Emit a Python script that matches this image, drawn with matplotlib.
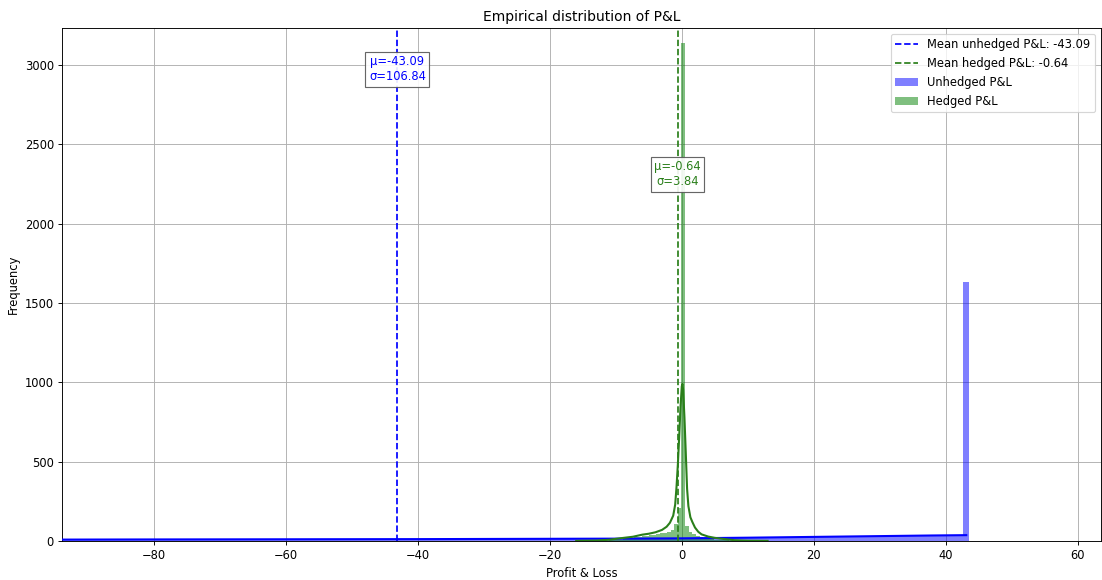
import numpy as np
import matplotlib
matplotlib.use("Agg")
import matplotlib.pyplot as plt

# ---- Unhedged P&L histogram (bin width 0.9, last bin is the premium spike) ----
unhedged_first_edge = -94.2
unhedged_width = 0.9
unhedged_counts = [
    8, 11, 7, 9, 12, 8, 10, 6, 9, 11, 8, 13, 9, 7, 10, 12, 8, 9, 11,
    9, 7, 12, 10, 8, 11, 9, 13, 10, 8, 12, 9, 11, 7, 10, 12, 9, 11, 8,
    12, 10, 9, 13, 11, 8, 12, 10, 14, 9, 11, 12, 10, 13, 9, 11, 14, 10, 12,
    11, 13, 10, 14, 12, 9, 13, 15, 11, 12, 14, 10, 13, 12, 15, 11, 14, 13, 12,
    14, 12, 15, 13, 11, 16, 14, 13, 15, 12, 16, 14, 13, 17, 15, 12, 16, 14, 15,
    16, 14, 17, 15, 18, 16, 14, 17, 19, 15, 18, 16, 20, 17, 19, 18, 16, 21, 19,
    20, 22, 19, 23, 21, 24, 20, 25, 23, 22, 26, 24, 27, 23, 26, 28, 25, 27, 29,
    28, 30, 27, 31, 29, 32, 30, 33, 31, 34, 32, 35, 33, 36, 34, 37, 35, 38, 36,
    1630,
]

# ---- Hedged P&L histogram (bin width 0.55) ----
hedged_first_edge = -13.25
hedged_width = 0.55
hedged_counts = [
    1, 1, 2, 3, 4, 5, 7, 9, 12, 15, 19, 23, 27, 31, 34, 37, 40, 44, 48, 52, 58, 68, 110, 205,
    3140,
    92, 55, 42, 33, 26, 20, 15, 11, 8, 6, 5, 4, 3, 2, 2, 1, 1, 1, 1, 0, 1, 0, 0, 0,
]

# ---- Kernel density curves, scaled to counts ----
unhedged_kde_x = [-94, -80, -60, -40, -20, -10, 0, 10, 20, 30, 38, 43.1]
unhedged_kde_y = [9, 10, 11, 12, 14, 15, 17, 21, 26, 31, 35, 37]

hedged_kde_x = [-16, -13, -11, -9.4, -7.4, -6, -5, -4, -3, -2.3, -1.8, -1.3, -1.0,
                -0.8, -0.6, -0.4, -0.2, 0.0, 0.1, 0.2, 0.4, 0.6, 0.8, 1.0, 1.3,
                1.6, 2.0, 2.5, 3.0, 4.0, 5.0, 6.5, 8, 10, 13]
hedged_kde_y = [1, 3, 8, 17, 27, 40, 46, 55, 70, 90, 115, 160, 230,
                340, 480, 650, 840, 975, 990, 955, 780, 560, 330, 220, 150,
                120, 85, 58, 42, 28, 20, 12, 5, 2, 1]

# ---- Summary statistics ----
mean_unhedged, std_unhedged = -43.09, 106.84
mean_hedged, std_hedged = -0.64, 3.84

DPI = 83
fig = plt.figure(figsize=(1102 / DPI, 580 / DPI), dpi=DPI)
ax = fig.add_axes([0.0563, 0.0672, 0.9427, 0.8845])

u_edges = unhedged_first_edge + unhedged_width * np.arange(len(unhedged_counts))
h_edges = hedged_first_edge + hedged_width * np.arange(len(hedged_counts))

ax.bar(u_edges, unhedged_counts, width=unhedged_width, align="edge",
       color="blue", alpha=0.5, linewidth=0, label="Unhedged P&L", zorder=2)
ax.bar(h_edges, hedged_counts, width=hedged_width, align="edge",
       color="green", alpha=0.5, linewidth=0, label="Hedged P&L", zorder=2)

ax.plot(unhedged_kde_x, unhedged_kde_y, color="blue", lw=1.8, zorder=3)
ax.plot(hedged_kde_x, hedged_kde_y, color="#2a7f1a", lw=1.8, zorder=3)

ax.axvline(mean_unhedged, color="blue", ls="--", lw=1.5,
           label=f"Mean unhedged P&L: {mean_unhedged:.2f}", zorder=4)
ax.axvline(mean_hedged, color="#2a7f1a", ls="--", lw=1.5,
           label=f"Mean hedged P&L: {mean_hedged:.2f}", zorder=4)

ax.set_xlim(-93.9, 63.5)
ax.set_ylim(0, 3233)

box = dict(boxstyle="square,pad=0.3", facecolor="white", edgecolor="#555555", alpha=0.9)
ax.text(mean_unhedged, 0.92 * 3233, f"μ={mean_unhedged:.2f}\nσ={std_unhedged:.2f}",
        color="blue", ha="center", va="center", fontsize=10, bbox=box, zorder=5)
ax.text(mean_hedged, 0.715 * 3233, f"μ={mean_hedged:.2f}\nσ={std_hedged:.2f}",
        color="#2a7f1a", ha="center", va="center", fontsize=10, bbox=box, zorder=5)

ax.set_xticks(np.arange(-80, 61, 20))
ax.set_yticks(np.arange(0, 3001, 500))
ax.grid(True, color="#b0b0b0", lw=0.8, zorder=0)
ax.set_axisbelow(True)

ax.set_title("Empirical distribution of P&L", fontsize=12)
ax.set_xlabel("Profit & Loss", fontsize=10)
ax.set_ylabel("Frequency", fontsize=10)

handles, labels = ax.get_legend_handles_labels()
order = [labels.index(f"Mean unhedged P&L: {mean_unhedged:.2f}"),
         labels.index(f"Mean hedged P&L: {mean_hedged:.2f}"),
         labels.index("Unhedged P&L"), labels.index("Hedged P&L")]
ax.legend([handles[i] for i in order], [labels[i] for i in order],
          loc="upper right", fontsize=10)

fig.savefig("out.png", dpi=DPI)
